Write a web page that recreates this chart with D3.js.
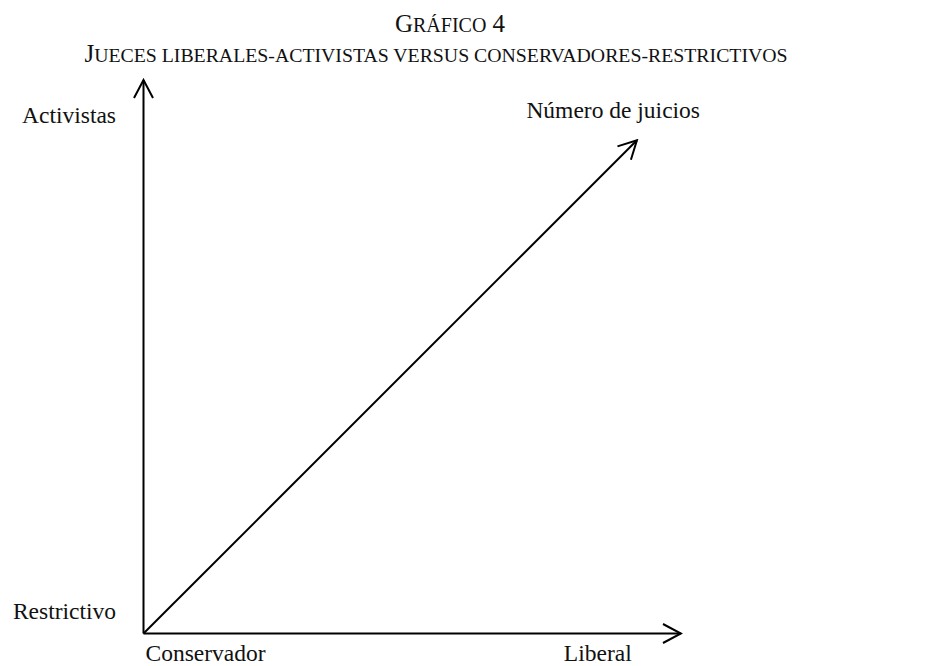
<!DOCTYPE html>
<html>
<head>
<meta charset="utf-8">
<script src="https://cdn.jsdelivr.net/npm/d3@7"></script>
<style>
  body { margin: 0; background: #fff; }
  text { font-family: "Liberation Serif", "DejaVu Serif", serif; fill: #111; }
</style>
</head>
<body>
<div id="chart"></div>
<script>
// conceptual chart: axes run 0..1, the diagonal shows the number of judgments
var xEnds = [0, 1];            // conservador -> liberal
var yEnds = [0, 1];            // restrictivo -> activistas
var diagonalEnd = [0.918, 0.891];
var xLabels = ["Conservador", "Liberal"];
var yLabels = ["Restrictivo", "Activistas"];
var diagonalLabel = "Número de juicios";

var width = 927, height = 666;
var svg = d3.select("#chart").append("svg")
    .attr("width", width)
    .attr("height", height);

var x = d3.scaleLinear().domain([0, 1]).range([143.5, 681]);
var y = d3.scaleLinear().domain([0, 1]).range([633.5, 80]);

// open arrowhead
svg.append("defs").append("marker")
    .attr("id", "arrow")
    .attr("viewBox", "-20 -11 22 22")
    .attr("refX", 0)
    .attr("refY", 0)
    .attr("markerUnits", "userSpaceOnUse")
    .attr("markerWidth", 22)
    .attr("markerHeight", 22)
    .attr("orient", "auto")
  .append("path")
    .attr("d", "M-18,-9.5L0,0L-18,9.5")
    .attr("fill", "none")
    .attr("stroke", "#000")
    .attr("stroke-width", 2);

var lines = [
  [[xEnds[0], yEnds[0]], [xEnds[1], yEnds[0]]],
  [[xEnds[0], yEnds[0]], [xEnds[0], yEnds[1]]],
  [[xEnds[0], yEnds[0]], diagonalEnd]
];

svg.selectAll("line.axis").data(lines).enter().append("line")
    .attr("class", "axis")
    .attr("x1", function(d) { return x(d[0][0]); })
    .attr("y1", function(d) { return y(d[0][1]); })
    .attr("x2", function(d) { return x(d[1][0]); })
    .attr("y2", function(d) { return y(d[1][1]); })
    .attr("stroke", "#000")
    .attr("stroke-width", 2)
    .attr("marker-end", "url(#arrow)");

// small caps titles built from tspans
function smallCaps(sel, parts, big, small) {
  parts.forEach(function(p) {
    sel.append("tspan").attr("font-size", p[1] ? big : small).text(p[0]);
  });
}

var title = svg.append("text")
    .attr("x", 450).attr("y", 32)
    .attr("text-anchor", "middle");
smallCaps(title, [["G", 1], ["RÁFICO", 0], [" 4", 1]], 25, 20);

var subtitle = svg.append("text")
    .attr("x", 436).attr("y", 62)
    .attr("text-anchor", "middle");
smallCaps(subtitle, [["J", 1], ["UECES LIBERALES-ACTIVISTAS VERSUS CONSERVADORES-RESTRICTIVOS", 0]], 25, 19.8);

// axis labels
svg.selectAll("text.xlab").data(xLabels).enter().append("text")
    .attr("class", "xlab")
    .attr("font-size", 23.5)
    .attr("x", function(d, i) { return i === 0 ? x(xEnds[0]) + 2 : x(0.782); })
    .attr("y", 661)
    .text(function(d) { return d; });

svg.selectAll("text.ylab").data(yLabels).enter().append("text")
    .attr("class", "ylab")
    .attr("font-size", 23.5)
    .attr("text-anchor", "end")
    .attr("x", 116)
    .attr("y", function(d, i) { return i === 0 ? y(yEnds[0]) - 15 : y(yEnds[1]) + 43; })
    .text(function(d) { return d; });

svg.append("text")
    .attr("font-size", 23.5)
    .attr("text-anchor", "end")
    .attr("x", 700)
    .attr("y", 118)
    .text(diagonalLabel);
</script>
</body>
</html>
